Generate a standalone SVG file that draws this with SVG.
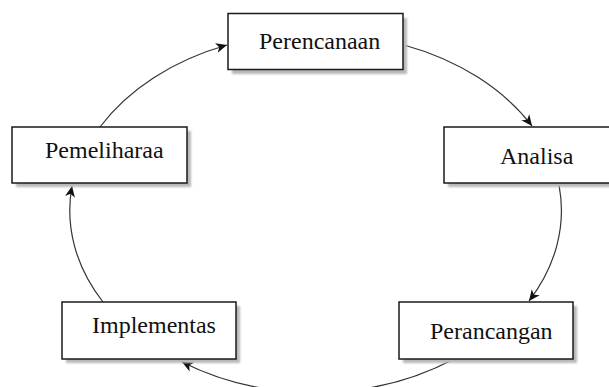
<svg xmlns="http://www.w3.org/2000/svg" width="609" height="387" viewBox="0 0 609 387">
<style>
.box{fill:#ffffff;stroke:#1a1a1a;stroke-width:1.5}
.shadow{fill:#b8b8b8;filter:url(#blur)}
.label{font-family:'Liberation Serif','DejaVu Serif',serif;font-size:24px;fill:#111}
.conn{fill:none;stroke:#333;stroke-width:1.2;marker-end:url(#arrow)}
</style>
<defs>
<filter id="blur" x="-10%" y="-10%" width="120%" height="130%"><feGaussianBlur stdDeviation="1"/></filter>
<marker id="arrow" markerUnits="userSpaceOnUse" markerWidth="12" markerHeight="12" viewBox="0 0 12 12" refX="11" refY="6" orient="auto">
<path d="M0,1 L11,6 L0,11 L3,6 z" fill="#111"/>
</marker>
</defs>
<rect width="609" height="387" fill="#ffffff"/>
<g id="connectors">
<path class="conn" d="M404,45 A245 182 0 0 1 532,126"/>
<path class="conn" d="M559,185 A245 182 0 0 1 529,301"/>
<path class="conn" d="M454,359 A245 190 0 0 1 182,362"/>
<path class="conn" d="M103,302 A245 182 0 0 1 72,186"/>
<path class="conn" d="M100,127 A245 182 0 0 1 227,45"/>
</g>
<g id="perencanaan">
<rect class="shadow" x="232" y="18" width="175" height="56"/>
<rect class="box" x="228" y="13.5" width="175" height="56"/>
<text class="label" x="259" y="49" font-family="Liberation Serif, serif">Perencanaan</text>
</g>
<g id="analisa">
<rect class="shadow" x="448" y="131" width="175" height="56"/>
<rect class="box" x="444" y="127" width="175" height="56"/>
<text class="label" x="500" y="164" font-family="Liberation Serif, serif">Analisa</text>
</g>
<g id="perancangan">
<rect class="shadow" x="403" y="306" width="174" height="57"/>
<rect class="box" x="399" y="302" width="174" height="57"/>
<text class="label" x="430" y="339" font-family="Liberation Serif, serif">Perancangan</text>
</g>
<g id="implementas">
<rect class="shadow" x="66" y="306" width="174" height="57"/>
<rect class="box" x="62" y="302" width="174" height="57"/>
<text class="label" x="92" y="333" font-family="Liberation Serif, serif">Implementas</text>
</g>
<g id="pemeliharaa">
<rect class="shadow" x="16" y="131" width="175" height="56"/>
<rect class="box" x="12" y="127" width="175" height="56"/>
<text class="label" x="45" y="158" font-family="Liberation Serif, serif">Pemeliharaa</text>
</g>
</svg>
